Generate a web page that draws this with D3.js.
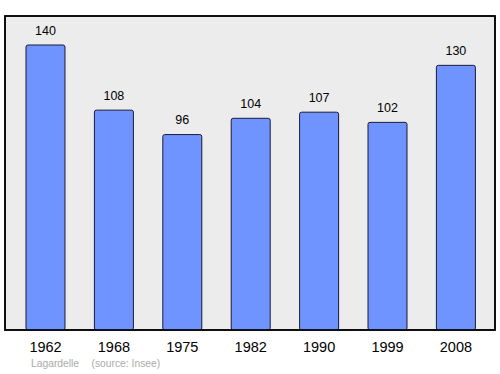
<!DOCTYPE html>
<html><head><meta charset="utf-8">
<script src="https://cdn.jsdelivr.net/npm/d3@7"></script>
<style>body{margin:0;background:#fff}svg{display:block}</style>
</head><body>
<svg id="c" width="500" height="374"></svg>
<script>
const years = ["1962","1968","1975","1982","1990","1999","2008"];
const population = [140,108,96,104,107,102,130];
const placeText = "Lagardelle";
const sourceText = "(source: Insee)";

const svg = d3.select("#c");
const font = "Liberation Sans, Arial, sans-serif";
const frame = {x0:5, x1:495, y0:16, y1:330};
svg.append("rect").attr("x",frame.x0).attr("y",frame.y0)
  .attr("width",frame.x1-frame.x0).attr("height",frame.y1-frame.y0)
  .attr("fill","#ececec").attr("stroke","#000").attr("stroke-width",1.5);

const x = d3.scaleBand().domain(years).range([11.3,490.1]).paddingInner(0.43).paddingOuter(0.215);
const y = d3.scaleLinear().domain([0,140]).range([330,45]);

svg.selectAll("rect.bar").data(years).enter().append("rect").attr("class","bar")
  .attr("x",d=>x(d)).attr("width",x.bandwidth())
  .attr("y",(d,i)=>y(population[i])).attr("height",(d,i)=>y(0)-y(population[i]))
  .attr("rx",2).attr("fill","#7094ff").attr("stroke","#1a1a33").attr("stroke-width",1);

svg.selectAll("text.val").data(years).enter().append("text").attr("class","val")
  .attr("x",d=>x(d)+x.bandwidth()/2).attr("y",(d,i)=>y(population[i])-10.5)
  .attr("text-anchor","middle").attr("font-family",font)
  .attr("font-size",12.5).attr("fill","#000").text((d,i)=>population[i]);

svg.append("rect").attr("x",frame.x0).attr("y",frame.y0)
  .attr("width",frame.x1-frame.x0).attr("height",frame.y1-frame.y0)
  .attr("fill","none").attr("stroke","#000").attr("stroke-width",1.5);

const xAxis = d3.axisBottom(x).tickSize(0).tickPadding(0);
const g = svg.append("g").attr("transform","translate(0,342)").call(xAxis);
g.select(".domain").remove();
g.selectAll("text").attr("font-family",font)
  .attr("font-size",14.5).attr("fill","#000").attr("dy","0.71em");

svg.append("text").attr("x",31).attr("y",367)
  .attr("font-family",font).attr("font-size",10.3)
  .attr("fill","#aaaaaa").text(placeText);
svg.append("text").attr("x",91.5).attr("y",367)
  .attr("font-family",font).attr("font-size",10.3)
  .attr("fill","#aaaaaa").text(sourceText);
</script>
</body></html>
